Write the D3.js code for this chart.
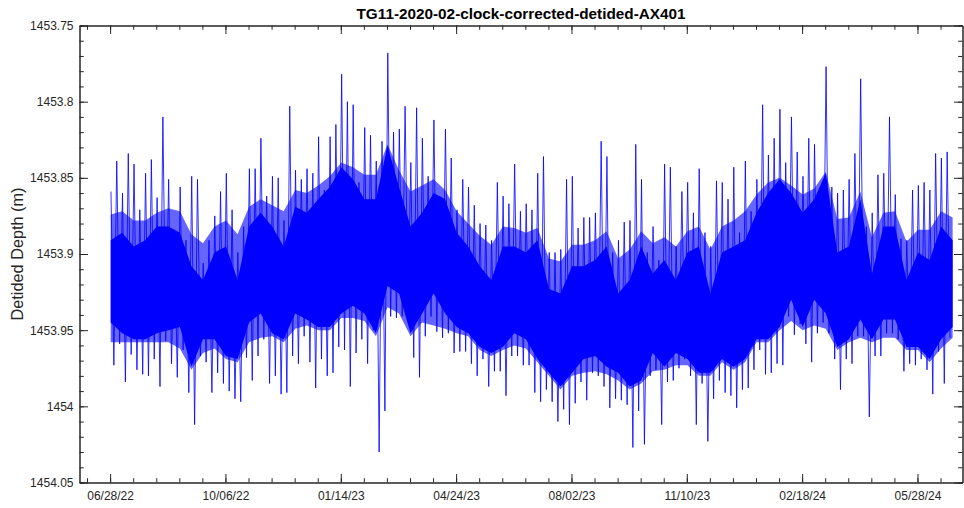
<!DOCTYPE html>
<html><head><meta charset="utf-8">
<script src="https://cdn.jsdelivr.net/npm/d3@7"></script>
<style>
body{margin:0;background:#fff;}
svg{display:block;font-family:"Liberation Sans",Arial,Helvetica,sans-serif;}
</style>
</head><body>
<svg id="chart" width="964" height="508"></svg>
<script>
// ---------- data ----------
const chartTitle = "TG11-2020-02-clock-corrected-detided-AX401";
const yAxisLabel = "Detided Depth (m)";
const xDomainDates = ["2022-06-01T11:00", "2024-07-06T01:00"];
const yDomainValues = [1453.75, 1454.05];
const xTickLabels = ["06/28/22","10/06/22","01/14/23","04/24/23","08/02/23","11/10/23","02/18/24","05/28/24"];
const xMinorStepDays = 20;
const yTickValues = [1453.75, 1453.8, 1453.85, 1453.9, 1453.95, 1454, 1454.05];
const yTickLabels = ["1453.75","1453.8","1453.85","1453.9","1453.95","1454","1454.05"];
const yMinorStep = 0.01;

// 5-day envelope of the detided depth (max / min within each window)
const envelopeStart = "2022-06-30T00:00";
const envelopeStepDays = 5;
const spikeHigh = [
1453.859,1453.839,1453.860,1453.834,1453.841,1453.871,1453.847,1453.838,1453.863,1453.810,1453.851,1453.884,1453.856,1453.891,1453.849,1453.851,1453.906,1453.891,1453.875,1453.859,1453.847,1453.871,1453.899,1453.882,
1453.844,1453.844,1453.824,1453.862,1453.849,1453.850,1453.878,1453.803,1453.845,1453.851,1453.844,1453.847,1453.823,1453.858,1453.823,1453.815,1453.782,1453.800,1453.802,1453.853,1453.817,1453.822,1453.839,1453.826,
1453.768,1453.820,1453.818,1453.803,1453.840,1453.804,1453.824,1453.849,1453.812,1453.862,1453.818,1453.837,1453.871,1453.851,1453.856,1453.868,1453.880,1453.881,1453.891,1453.853,1453.862,1453.867,1453.841,1453.872,
1453.867,1453.871,1453.847,1453.836,1453.899,1453.899,1453.897,1453.851,1453.849,1453.883,1453.876,1453.876,1453.873,1453.826,1453.836,1453.899,1453.891,1453.879,1453.878,1453.828,1453.851,1453.899,1453.882,1453.904,
1453.841,1453.843,1453.895,1453.859,1453.853,1453.873,1453.844,1453.886,1453.895,1453.852,1453.853,1453.864,1453.843,1453.886,1453.839,1453.872,1453.851,1453.802,1453.835,1453.824,1453.805,1453.840,1453.810,1453.833,1453.849,
1453.824,1453.828,1453.860,1453.777,1453.856,1453.860,1453.858,1453.851,1453.834,1453.785,1453.882,1453.873,1453.848,1453.847,1453.810,1453.861,1453.890,1453.891,1453.858,1453.855,1453.853,1453.858,1453.834,1453.837,1453.833
];
const spikeLow = [
1453.973,1453.959,1453.984,1453.966,1453.976,1453.979,1453.980,1453.969,1453.987,1453.957,1453.972,1453.981,1453.963,1453.991,1454.012,1453.967,1453.971,1453.991,1453.978,1453.985,1453.990,1453.995,1453.997,1453.968,
1453.983,1453.967,1453.956,1453.985,1453.980,1453.992,1453.991,1453.967,1453.972,1453.954,1453.971,1453.988,1453.969,1453.980,1453.978,1453.961,1453.963,1453.987,1453.965,1453.956,1453.972,1453.950,1454.030,1454.003,
1453.941,1453.942,1453.941,1453.934,1453.968,1453.981,1453.954,1453.941,1453.951,1453.955,1453.952,1453.965,1453.964,1453.964,1453.972,1453.980,1453.969,1453.987,1453.977,1453.977,1453.993,1453.967,1453.967,1453.973,
1453.973,1453.991,1453.997,1453.989,1453.997,1454.010,1454.002,1454.012,1453.998,1453.984,1453.996,1453.978,1453.980,1453.987,1454.001,1453.995,1453.996,1453.999,1454.027,1454.003,1454.025,1453.980,1453.976,1454.012,
1453.984,1453.983,1453.975,1453.969,1453.980,1454.012,1453.985,1454.023,1453.995,1453.983,1453.991,1453.993,1454.001,1453.989,1453.988,1453.976,1453.963,1453.979,1453.978,1453.972,1453.973,1453.941,1453.953,1453.946,1453.959,
1453.971,1453.952,1453.945,1453.952,1453.969,1453.989,1453.969,1453.972,1453.954,1453.954,1454.007,1453.967,1453.967,1453.952,1453.952,1453.956,1453.977,1453.972,1453.973,1453.969,1453.976,1453.992,1453.964,1453.985,1453.955
];
// 10-day band where overlapping oscillations cover most of the column
const bandStart = "2022-06-28T12:00";
const bandStepDays = 10;
const bandHigh = [
1453.874,1453.872,1453.878,1453.878,1453.873,1453.870,1453.872,1453.887,1453.893,1453.882,1453.878,1453.887,
1453.869,1453.864,1453.868,1453.872,1453.858,1453.860,1453.855,1453.849,1453.840,1453.843,1453.848,1453.848,1453.828,
1453.845,1453.859,1453.855,1453.851,1453.858,1453.872,1453.880,1453.888,1453.894,1453.882,1453.883,1453.886,
1453.883,1453.903,1453.905,1453.894,1453.894,1453.891,1453.885,1453.903,1453.897,1453.885,1453.893,1453.889,
1453.895,1453.885,1453.882,1453.897,1453.882,1453.878,1453.872,1453.861,1453.853,1453.850,1453.855,1453.861,
1453.857,1453.846,1453.877,1453.876,1453.859,1453.889,1453.873,1453.872,1453.892,1453.884,1453.884,1453.872,1453.876
];
const bandLow = [
1453.958,1453.958,1453.958,1453.958,1453.958,1453.958,1453.962,1453.976,1453.965,1453.962,1453.969,1453.971,
1453.958,1453.955,1453.954,1453.958,1453.949,1453.947,1453.950,1453.950,1453.942,1453.942,1453.944,1453.954,1453.935,
1453.939,1453.954,1453.945,1453.947,1453.949,1453.952,1453.954,1453.963,1453.967,1453.963,1453.960,1453.962,
1453.971,1453.980,1453.989,1453.980,1453.978,1453.977,1453.979,1453.983,1453.989,1453.985,1453.977,1453.976,
1453.973,1453.973,1453.980,1453.980,1453.971,1453.976,1453.971,1453.958,1453.958,1453.950,1453.944,1453.950,
1453.947,1453.949,1453.963,1453.958,1453.955,1453.958,1453.955,1453.955,1453.963,1453.963,1453.971,1453.962,1453.955
];
// 10-day fully solid core of the trace
const coreHigh = [
1453.891,1453.886,1453.895,1453.891,1453.882,1453.882,1453.886,1453.908,1453.917,1453.899,1453.895,1453.917,
1453.882,1453.873,1453.882,1453.895,1453.869,1453.873,1453.864,1453.856,1453.843,1453.851,1453.864,1453.864,1453.829,
1453.856,1453.882,1453.873,1453.860,1453.864,1453.886,1453.895,1453.908,1453.917,1453.895,1453.895,1453.899,
1453.891,1453.923,1453.926,1453.908,1453.908,1453.904,1453.895,1453.926,1453.917,1453.895,1453.913,1453.904,
1453.917,1453.899,1453.895,1453.926,1453.899,1453.895,1453.891,1453.873,1453.860,1453.851,1453.860,1453.873,
1453.864,1453.847,1453.899,1453.895,1453.864,1453.913,1453.882,1453.882,1453.917,1453.899,1453.904,1453.882,1453.891
];
const coreLow = [
1453.945,1453.952,1453.956,1453.956,1453.952,1453.950,1453.948,1453.974,1453.956,1453.956,1453.967,1453.969,
1453.945,1453.939,1453.952,1453.956,1453.939,1453.943,1453.948,1453.948,1453.939,1453.934,1453.939,1453.952,1453.921,
1453.926,1453.952,1453.939,1453.926,1453.939,1453.948,1453.952,1453.961,1453.965,1453.961,1453.952,1453.956,
1453.969,1453.978,1453.987,1453.978,1453.969,1453.967,1453.974,1453.978,1453.987,1453.983,1453.965,1453.974,
1453.965,1453.969,1453.978,1453.978,1453.969,1453.974,1453.969,1453.956,1453.956,1453.948,1453.930,1453.948,
1453.930,1453.939,1453.961,1453.956,1453.943,1453.956,1453.943,1453.943,1453.961,1453.961,1453.969,1453.956,1453.948
];

// ---------- drawing ----------
const plot = {left: 79.5, right: 962.5, top: 25.5, bottom: 482.5};
const axisColor = "#262626";
const traceColor = "#0000ff";
const majorLen = 8.5, minorLen = 4.3;

const parseISO = d3.utcParse("%Y-%m-%dT%H:%M");
const parseTick = d3.utcParse("%m/%d/%y");
const svg = d3.select("#chart");

const x = d3.scaleUtc().domain(xDomainDates.map(parseISO)).range([plot.left, plot.right]);
const y = d3.scaleLinear().domain(yDomainValues).range([plot.top, plot.bottom]);

const xMajor = xTickLabels.map(parseTick);
const xMinor = [];
{
  const [d0, d1] = x.domain();
  let t = xMajor[0];
  while (t > d0) t = d3.utcDay.offset(t, -xMinorStepDays);
  for (; t <= d1; t = d3.utcDay.offset(t, xMinorStepDays)) if (t >= d0) xMinor.push(t);
}
const yMinor = d3.range(Math.round((yDomainValues[1]-yDomainValues[0])/yMinorStep)+1)
  .map(i => +(yDomainValues[0] + i*yMinorStep).toFixed(4));

const envT0 = parseISO(envelopeStart);
const bandT0 = parseISO(bandStart);
const tracePts = [];
spikeHigh.forEach((hv, i) => {
  const c = d3.utcHour.offset(envT0, i*envelopeStepDays*24);
  tracePts.push([d3.utcHour.offset(c, -30), hv]);
  tracePts.push([d3.utcHour.offset(c, 30), spikeLow[i]]);
});
const bandPts = bandHigh.map((hv, i) => [d3.utcDay.offset(bandT0, i*bandStepDays), hv, bandLow[i]]);
const corePts = coreHigh.map((hv, i) => [d3.utcDay.offset(bandT0, i*bandStepDays), hv, coreLow[i]]);
const area = d3.area().x(d=>x(d[0])).y0(d=>y(d[2])).y1(d=>y(d[1]));

svg.append("defs").append("clipPath").attr("id","clip")
  .append("rect").attr("x", plot.left).attr("y", plot.top)
  .attr("width", plot.right-plot.left).attr("height", plot.bottom-plot.top);

const g = svg.append("g").attr("clip-path","url(#clip)");
g.append("path").datum(bandPts).attr("fill", traceColor).attr("fill-opacity", 0.6).attr("d", area);
g.append("path").datum(corePts).attr("fill", traceColor).attr("d", area);
g.append("path").datum(tracePts)
  .attr("fill","none").attr("stroke",traceColor).attr("stroke-width",0.9).attr("stroke-opacity",0.9)
  .attr("stroke-linejoin","miter")
  .attr("d", d3.line().x(d=>x(d[0])).y(d=>y(d[1])));

function styleAxis(sel){
  sel.selectAll("path.domain").attr("stroke", axisColor).attr("stroke-width", 1);
  sel.selectAll(".tick line").attr("stroke", axisColor).attr("stroke-width", 1);
  sel.selectAll(".tick text").attr("fill", axisColor).style("font-size","12px")
     .style("font-family",'"Liberation Sans",Arial,Helvetica,sans-serif');
}
const fmtX = (d,i) => xTickLabels[i];
const fmtY = (d,i) => yTickLabels[i];

svg.append("g").attr("transform",`translate(0,${plot.bottom})`)
  .call(d3.axisBottom(x).tickValues(xMinor).tickSize(-minorLen).tickSizeOuter(0).tickFormat(""))
  .call(styleAxis);
svg.append("g").attr("transform",`translate(0,${plot.bottom})`)
  .call(d3.axisBottom(x).tickValues(xMajor).tickSize(-majorLen).tickSizeOuter(0).tickPadding(9).tickFormat(fmtX))
  .call(styleAxis);
svg.append("g").attr("transform",`translate(0,${plot.top})`)
  .call(d3.axisTop(x).tickValues(xMinor).tickSize(-minorLen).tickSizeOuter(0).tickFormat(""))
  .call(styleAxis);
svg.append("g").attr("transform",`translate(0,${plot.top})`)
  .call(d3.axisTop(x).tickValues(xMajor).tickSize(-majorLen).tickSizeOuter(0).tickFormat(""))
  .call(styleAxis);
svg.append("g").attr("transform",`translate(${plot.left},0)`)
  .call(d3.axisLeft(y).tickValues(yMinor).tickSize(-minorLen).tickSizeOuter(0).tickFormat(""))
  .call(styleAxis);
svg.append("g").attr("transform",`translate(${plot.left},0)`)
  .call(d3.axisLeft(y).tickValues(yTickValues).tickSize(-majorLen).tickSizeOuter(0).tickPadding(6).tickFormat(fmtY))
  .call(styleAxis);
svg.append("g").attr("transform",`translate(${plot.right},0)`)
  .call(d3.axisRight(y).tickValues(yMinor).tickSize(-minorLen).tickSizeOuter(0).tickFormat(""))
  .call(styleAxis);
svg.append("g").attr("transform",`translate(${plot.right},0)`)
  .call(d3.axisRight(y).tickValues(yTickValues).tickSize(-majorLen).tickSizeOuter(0).tickFormat(""))
  .call(styleAxis);

svg.append("text").attr("x", (plot.left+plot.right)/2).attr("y", 19)
  .attr("text-anchor","middle").attr("fill","#000").style("font-weight","bold").style("font-size","15.3px")
  .text(chartTitle);
svg.append("text").attr("transform",`translate(23,${(plot.top+plot.bottom)/2}) rotate(-90)`)
  .attr("text-anchor","middle").attr("fill", axisColor).style("font-size","16.3px")
  .text(yAxisLabel);
</script>
</body></html>
